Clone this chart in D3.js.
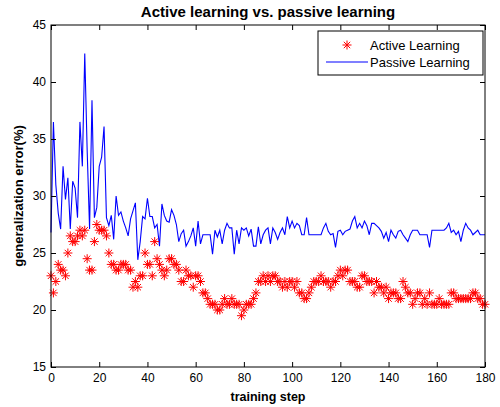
<!DOCTYPE html>
<html><head><meta charset="utf-8">
<script src="https://cdn.jsdelivr.net/npm/d3@7/dist/d3.min.js"></script>
<style>
body{margin:0;background:#fff}
svg{display:block}
text{font-family:"Liberation Sans",Arial,Helvetica,sans-serif;fill:#000}
</style>
</head><body>
<svg id="chart" width="500" height="407"></svg>
<script>
const titleText = "Active learning vs. passive learning";
const xLabel = "training step";
const yLabel = "generalization error(%)";
const seriesNames = ["Active Learning", "Passive Learning"];
const xTicks = [0,20,40,60,80,100,120,140,160,180];
const yTicks = [15,20,25,30,35,40,45];

const activeValues = [
23.0,21.5,22.5,24.0,23.5,23.5,23.0,25.0,26.5,26.0,
26.0,26.5,27.0,26.5,27.0,24.5,23.5,23.5,26.0,27.5,
27.0,27.0,27.0,26.5,25.0,24.0,24.0,23.5,23.5,24.0,
24.0,24.0,23.5,23.5,22.0,22.5,22.0,23.0,23.0,25.0,
24.0,24.0,23.0,26.0,24.5,24.0,23.5,23.0,23.5,24.5,
24.5,24.0,24.0,23.5,22.5,22.5,23.5,23.0,23.0,22.0,
23.0,23.0,22.5,21.5,21.5,21.0,20.5,20.5,20.5,20.0,
20.0,20.5,21.0,20.5,20.5,21.0,20.5,20.5,20.5,19.5,
20.0,20.5,20.5,20.5,21.0,21.5,22.5,22.5,23.0,22.5,
23.0,22.5,23.0,23.0,22.5,22.5,22.0,22.5,22.0,22.5,
22.5,22.0,22.5,21.5,21.5,21.0,21.0,21.5,22.0,22.5,
22.5,22.5,23.0,22.5,22.5,22.5,22.0,22.5,22.5,23.0,
23.5,23.0,23.5,23.5,22.5,22.5,22.5,22.0,22.0,23.0,
23.0,22.5,22.5,22.5,21.5,22.5,22.0,22.0,21.5,22.0,
21.0,21.5,21.5,21.5,21.0,21.0,22.5,22.0,21.5,21.5,
20.5,21.0,21.5,21.5,20.5,21.0,20.5,21.5,20.5,20.5,
20.5,21.0,20.5,20.5,20.5,20.5,21.5,21.5,21.0,21.0,
21.0,21.0,21.0,21.0,21.0,21.5,21.5,21.0,21.0,20.5,
20.5];

const passiveValues = [
26.8,36.5,31.0,28.5,27.1,32.6,29.7,31.6,27.1,31.3,
30.7,28.1,36.5,32.6,42.5,34.0,27.1,38.4,28.1,29.0,
32.6,33.4,36.1,28.1,27.4,28.3,26.2,30.0,28.3,28.6,
27.8,27.2,26.5,28.0,28.7,29.4,24.4,26.0,28.2,28.0,
29.8,28.2,28.2,27.2,27.5,25.6,29.3,28.3,27.8,27.7,
28.8,28.3,27.5,26.0,26.7,27.0,25.6,26.0,26.5,27.2,
25.6,27.8,25.8,26.6,26.6,26.6,26.6,24.9,27.0,26.4,
27.0,25.8,27.0,27.6,27.2,27.2,24.9,27.0,25.8,27.2,
27.0,27.2,26.5,27.1,25.6,25.6,27.3,25.8,26.6,27.0,
27.2,25.8,27.2,26.8,26.2,26.8,27.2,26.6,28.2,27.2,
27.8,27.2,27.6,27.4,26.6,26.6,28.1,26.6,26.6,26.6,
26.6,26.6,26.6,27.2,27.6,26.9,26.6,26.7,25.5,26.9,
27.0,26.6,26.9,27.0,27.1,27.8,28.2,27.2,27.6,27.2,
27.8,27.4,26.6,27.6,27.6,27.4,27.2,26.9,26.3,26.8,
26.0,27.0,26.6,26.3,26.9,27.0,26.6,26.3,26.0,26.6,
27.0,27.0,27.0,26.6,26.6,26.6,26.6,25.5,27.0,27.0,
27.0,27.0,27.0,27.0,27.2,27.6,26.8,27.0,26.6,26.9,
26.0,27.0,27.6,27.2,27.0,26.6,26.8,27.0,26.6,26.6,
26.6];

const steps = activeValues.map((d,i)=>i);

const W = 500, H = 407;
const m = {left:51, right:485, top:25, bottom:367};
const svg = d3.select("#chart");
svg.append("rect").attr("width",W).attr("height",H).attr("fill","#fff");

const x = d3.scaleLinear().domain([0,180]).range([m.left, m.right]);
const y = d3.scaleLinear().domain([15,45]).range([m.bottom, m.top]);

// passive line
const line = d3.line().x((d,i)=>x(steps[i])).y(d=>y(d));
svg.append("path").datum(passiveValues).attr("d",line)
  .attr("fill","none").attr("stroke","#0000ff").attr("stroke-width",1.1);

// active star markers
const starPath = "M-4.5,0L4.5,0M0,-4.5L0,4.5M-3.2,-3.2L3.2,3.2M-3.2,3.2L3.2,-3.2";
svg.append("g").selectAll("path").data(activeValues).join("path")
  .attr("transform",(d,i)=>`translate(${x(steps[i])},${y(d)})`)
  .attr("d",starPath).attr("stroke","#ff0000").attr("stroke-width",1).attr("fill","none");

// axes
const fs = "12px";
const gB = svg.append("g").attr("transform",`translate(0,${m.bottom})`)
  .call(d3.axisBottom(x).tickValues(xTicks).tickSizeInner(-5).tickSizeOuter(0).tickPadding(6));
const gT = svg.append("g").attr("transform",`translate(0,${m.top})`)
  .call(d3.axisTop(x).tickValues(xTicks).tickSizeInner(-5).tickSizeOuter(0).tickFormat(""));
const gL = svg.append("g").attr("transform",`translate(${m.left},0)`)
  .call(d3.axisLeft(y).tickValues(yTicks).tickSizeInner(-5).tickSizeOuter(0).tickPadding(4));
const gR = svg.append("g").attr("transform",`translate(${m.right},0)`)
  .call(d3.axisRight(y).tickValues(yTicks).tickSizeInner(-5).tickSizeOuter(0).tickFormat(""));
[gB,gT,gL,gR].forEach(g=>{
  g.selectAll(".domain").remove();
  g.selectAll("line").attr("stroke","#000");
  g.selectAll("text").attr("font-size",fs).attr("font-family",'"Liberation Sans",Arial,sans-serif').attr("fill","#000");
});
gL.selectAll("text").attr("dx","-1");
svg.append("rect").attr("x",m.left).attr("y",m.top)
  .attr("width",m.right-m.left).attr("height",m.bottom-m.top)
  .attr("fill","none").attr("stroke","#000").attr("stroke-width",1);

// title and labels
svg.append("text").attr("x",(m.left+m.right)/2).attr("y",17)
  .attr("text-anchor","middle").attr("font-weight","bold").attr("font-size","15px").text(titleText);
svg.append("text").attr("x",(m.left+m.right)/2).attr("y",401)
  .attr("text-anchor","middle").attr("font-weight","bold").attr("font-size","12.5px").text(xLabel);
svg.append("text").attr("transform",`translate(23,${(m.top+m.bottom)/2}) rotate(-90)`)
  .attr("text-anchor","middle").attr("font-weight","bold").attr("font-size","13px").text(yLabel);

// legend
const lg = svg.append("g");
const lx0 = 318, lx1 = 483, ly0 = 31, ly1 = 75;
lg.append("rect").attr("x",lx0).attr("y",ly0).attr("width",lx1-lx0).attr("height",ly1-ly0)
  .attr("fill","#fff").attr("stroke","#000").attr("stroke-width",1);
const row1 = 45, row2 = 62;
lg.append("path").attr("transform",`translate(347,${row1})`).attr("d",starPath)
  .attr("stroke","#ff0000").attr("stroke-width",1).attr("fill","none");
lg.append("line").attr("x1",326).attr("x2",368).attr("y1",row2).attr("y2",row2)
  .attr("stroke","#0000ff").attr("stroke-width",1.1);
lg.append("text").attr("x",370).attr("y",row1).attr("dy","0.35em").attr("font-size","13px").text(seriesNames[0]);
lg.append("text").attr("x",370).attr("y",row2).attr("dy","0.35em").attr("font-size","13px").text(seriesNames[1]);
</script>
</body></html>
